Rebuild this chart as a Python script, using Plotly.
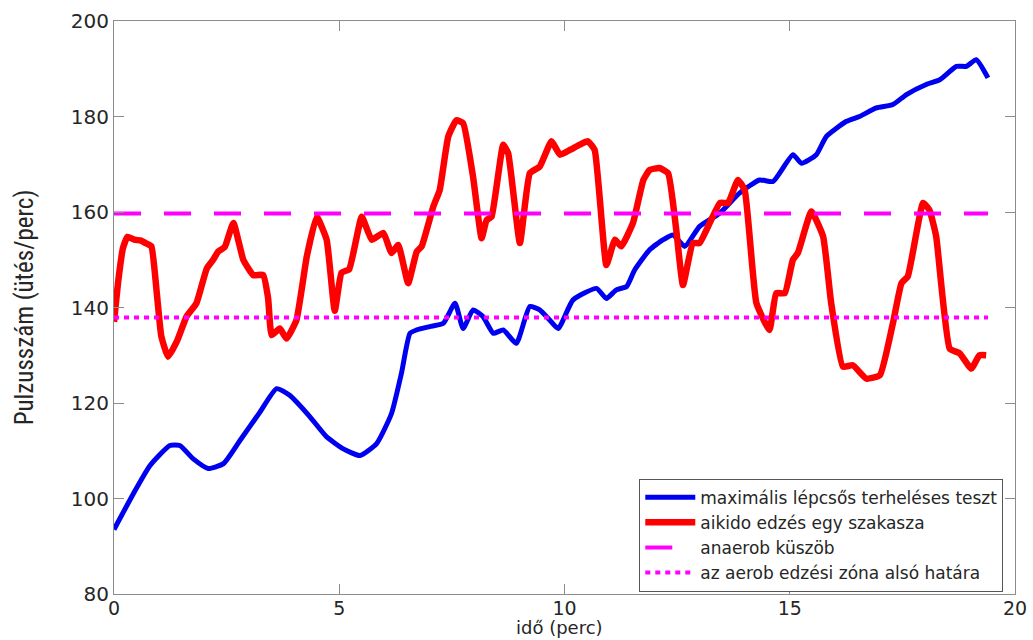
import plotly.graph_objects as go

# --- data ---
red_t = [0.0, 0.1, 0.2, 0.3, 0.45, 0.6, 0.72, 0.83, 0.95, 1.05, 1.2, 1.4, 1.61, 1.83, 2.06, 2.2, 2.31, 2.46,
         2.65, 2.87, 3.09, 3.31, 3.42, 3.5, 3.68, 3.83, 4.05, 4.28, 4.5, 4.72, 4.9, 5.05, 5.22, 5.5, 5.72,
         5.98, 6.16, 6.31, 6.53, 6.72, 6.83, 7.09, 7.23, 7.42, 7.6, 7.75, 7.97, 8.16, 8.27, 8.38, 8.64,
         8.75, 9.01, 9.23, 9.45, 9.71, 9.9, 10.12, 10.34, 10.52, 10.67, 10.93, 11.12, 11.26, 11.52, 11.75,
         11.89, 12.11, 12.3, 12.48, 12.63, 12.85, 13.0, 13.45, 13.63, 13.85, 14.0, 14.26, 14.55, 14.7,
         14.89, 15.07, 15.18, 15.48, 15.74, 15.92, 16.18, 16.4, 16.7, 17.0, 17.29, 17.48, 17.62, 17.96,
         18.1, 18.25, 18.55, 18.77, 19.03, 19.21, 19.36]
red_v = [137.0, 146.0, 152.5, 154.8, 154.2, 154.0, 153.4, 152.8, 143.0, 134.0, 129.7, 133.0, 138.1, 140.9,
         148.2, 150.0, 151.7, 152.7, 157.7, 150.0, 146.8, 146.8, 142.0, 134.2, 135.6, 133.5, 137.4, 150.7,
         159.0, 154.2, 139.3, 147.3, 148.0, 159.0, 154.2, 155.6, 151.4, 153.1, 145.1, 151.7, 152.8, 161.2,
         164.6, 175.8, 179.2, 178.6, 167.4, 154.5, 158.3, 159.0, 174.1, 172.3, 153.5, 168.1, 169.5, 174.8,
         172.0, 173.0, 174.1, 174.8, 173.0, 148.9, 154.2, 152.8, 157.7, 166.7, 168.8, 169.2, 168.1, 156.3,
         144.7, 153.5, 153.5, 161.9, 161.9, 166.7, 164.6, 140.9, 135.3, 143.0, 143.0, 150.0, 151.4, 160.1,
         154.9, 140.9, 127.6, 127.9, 125.1, 125.8, 136.7, 145.1, 146.5, 161.9, 160.4, 154.9, 131.4, 130.4,
         127.2, 130.0, 130.0]

blue_t = [0.0, 0.43, 0.8, 1.24, 1.46, 1.76, 2.09, 2.43, 2.8, 3.24, 3.61, 3.9, 4.35, 4.72, 5.09, 5.46, 5.83,
          6.16, 6.38, 6.57, 6.72, 7.01, 7.31, 7.57, 7.75, 7.97, 8.19, 8.42, 8.64, 8.93, 9.23, 9.45, 9.67,
          9.86, 10.19, 10.71, 10.93, 11.15, 11.38, 11.56, 11.89, 12.19, 12.41, 12.67, 13.0, 13.45, 13.89,
          14.33, 14.63, 15.07, 15.26, 15.59, 15.81, 16.26, 16.55, 16.92, 17.29, 17.59, 18.03, 18.33, 18.7,
          18.92, 19.14, 19.4]
blue_v = [93.5, 101.0, 106.9, 111.1, 111.1, 108.3, 106.3, 107.3, 112.2, 118.1, 123.0, 121.6, 117.1, 112.9,
          110.4, 109.0, 111.5, 117.8, 126.2, 134.6, 135.3, 136.0, 136.7, 140.9, 135.6, 139.5, 138.1, 134.6,
          135.3, 132.5, 140.2, 139.5, 137.4, 135.6, 141.6, 144.0, 141.9, 143.7, 144.4, 147.9, 152.1, 154.2,
          155.2, 152.8, 157.0, 159.8, 164.0, 166.7, 166.4, 172.0, 170.2, 172.0, 175.8, 179.0, 180.0, 181.8,
          182.5, 184.6, 186.7, 187.7, 190.5, 190.5, 191.9, 188.1]

threshold_t = [0.0, 19.4]
anaerob = [159.7, 159.7]
aerob_low = [137.9, 137.9]

names = ["maximális lépcsős terheléses teszt", "aikido edzés egy szakasza",
         "anaerob küszöb", "az aerob edzési zóna alsó határa"]
x_title = "idő (perc)"
y_title = "Pulzusszám (ütés/perc)"

x_ticks = [0, 5, 10, 15, 20]
y_ticks = [80, 100, 120, 140, 160, 180, 200]

fig = go.Figure()
fig.add_trace(go.Scatter(x=blue_t, y=blue_v, mode="lines", name=names[0],
                         line=dict(color="#0000f0", width=5, shape="spline", smoothing=0.5)))
fig.add_trace(go.Scatter(x=red_t, y=red_v, mode="lines", name=names[1],
                         line=dict(color="#ff0000", width=6.5, shape="spline", smoothing=0.4)))
fig.add_trace(go.Scatter(x=threshold_t, y=anaerob, mode="lines", name=names[2],
                         line=dict(color="#ff00ff", width=4, dash="27px,23px")))
fig.add_trace(go.Scatter(x=threshold_t, y=aerob_low, mode="lines", name=names[3],
                         line=dict(color="#ff00ff", width=4, dash="5px,5px")))

axis_common = dict(showgrid=False, zeroline=False, showline=True, linecolor="#8c8c8c", linewidth=1,
                   mirror="ticks", ticks="inside", ticklen=10, tickcolor="#8c8c8c", tickwidth=1,
                   automargin=False)

fig.update_layout(
    width=1033, height=640,
    margin=dict(l=114, r=18, t=21, b=46, autoexpand=False),
    paper_bgcolor="white", plot_bgcolor="white",
    xaxis=dict(range=[0, 20], tickvals=x_ticks, ticklabelstandoff=-3,
               tickfont=dict(family="DejaVu Sans", size=19, color="#262626"), **axis_common),
    yaxis=dict(range=[80, 200], tickvals=y_ticks,
               tickfont=dict(family="DejaVu Sans", size=20, color="#262626"),
               title=dict(text=y_title, standoff=30,
                          font=dict(family="Liberation Sans Narrow, Roboto Condensed, Roboto", size=25,
                                    color="#262626")),
               **axis_common),
    legend=dict(x=0.987, xanchor="right", y=0.004, yanchor="bottom",
                bgcolor="white", bordercolor="#555555", borderwidth=1,
                font=dict(family="DejaVu Sans", size=17, color="#262626"),
                itemwidth=50, tracegroupgap=0),
    showlegend=True,
    annotations=[dict(text=x_title, xref="paper", yref="paper", x=0.495, y=-0.0795,
                      xanchor="center", yanchor="bottom", showarrow=False,
                      font=dict(family="DejaVu Sans", size=18, color="#262626"))],
)

fig.write_html("out.html")
